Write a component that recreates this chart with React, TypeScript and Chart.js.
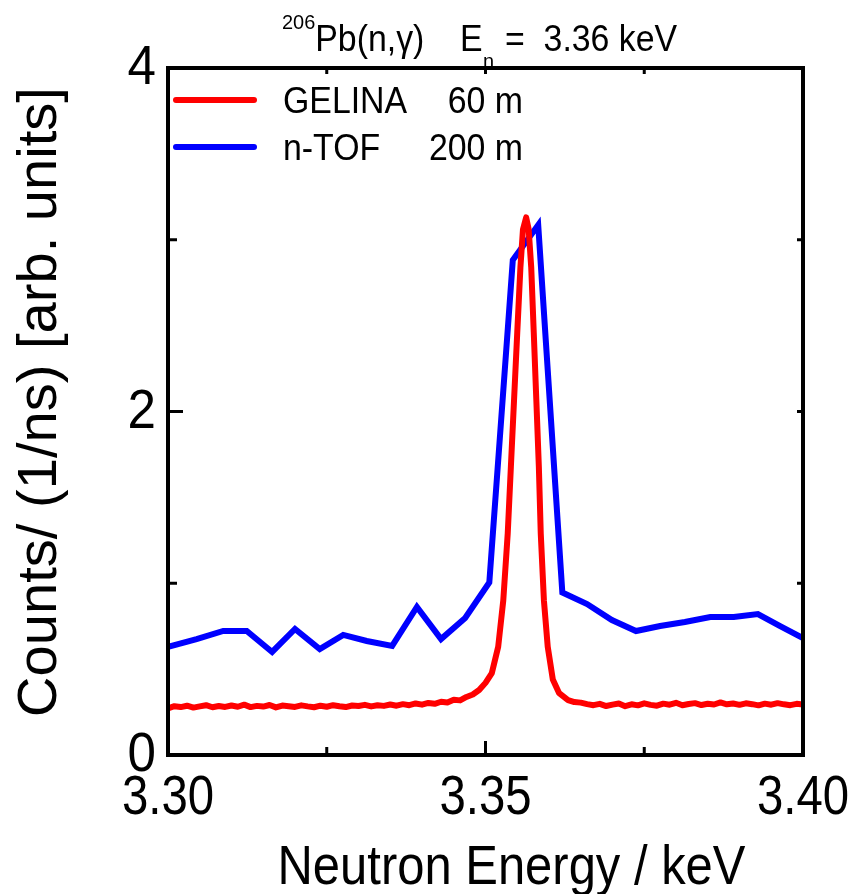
import React, { useEffect, useRef } from "react";
import { Chart, registerables } from "chart.js";

Chart.register(...registerables);

// ---- Data ----
const gelinaEnergy = [
  3.300, 3.301, 3.302, 3.303, 3.304, 3.305, 3.306, 3.307, 3.308, 3.309,
  3.310, 3.311, 3.312, 3.313, 3.314, 3.315, 3.316, 3.317, 3.318, 3.319,
  3.320, 3.321, 3.322, 3.323, 3.324, 3.325, 3.326, 3.327, 3.328, 3.329,
  3.330, 3.331, 3.332, 3.333, 3.334, 3.335, 3.336, 3.337, 3.338, 3.339,
  3.340, 3.341, 3.342, 3.343, 3.344, 3.345, 3.346, 3.347, 3.348, 3.349,
  3.350, 3.351, 3.352, 3.3528, 3.3535, 3.354, 3.3545, 3.355, 3.3555, 3.3559,
  3.3564, 3.3568, 3.3572, 3.3576, 3.358, 3.3584, 3.3587, 3.3592, 3.3598, 3.3606,
  3.3616, 3.363, 3.364,
  3.365, 3.366, 3.367, 3.368, 3.369, 3.370, 3.371, 3.372, 3.373, 3.374,
  3.375, 3.376, 3.377, 3.378, 3.379, 3.380, 3.381, 3.382, 3.383, 3.384,
  3.385, 3.386, 3.387, 3.388, 3.389, 3.390, 3.391, 3.392, 3.393, 3.394,
  3.395, 3.396, 3.397, 3.398, 3.399, 3.400,
];
const gelinaCounts = [
  0.272, 0.284, 0.279, 0.287, 0.276, 0.283, 0.290, 0.278, 0.285, 0.280,
  0.288, 0.281, 0.293, 0.279, 0.286, 0.282, 0.291, 0.277, 0.288, 0.284,
  0.280, 0.289, 0.283, 0.278, 0.287, 0.281, 0.290, 0.284, 0.279, 0.288,
  0.285, 0.292, 0.283, 0.290, 0.286, 0.294, 0.287, 0.296, 0.290, 0.300,
  0.293, 0.303, 0.298, 0.310, 0.306, 0.322, 0.318, 0.338, 0.352, 0.378,
  0.420, 0.477, 0.630, 0.900, 1.290, 1.680, 2.070, 2.460, 2.840, 3.060,
  3.130, 3.060, 2.840, 2.460, 2.070, 1.680, 1.290, 0.900, 0.630, 0.440,
  0.360, 0.320, 0.308,
  0.305, 0.296, 0.290, 0.298, 0.285, 0.293, 0.300, 0.284, 0.295, 0.289,
  0.301, 0.292, 0.287, 0.299, 0.293, 0.304, 0.290, 0.297, 0.302, 0.291,
  0.298, 0.294, 0.306, 0.295, 0.300, 0.292, 0.301, 0.296, 0.289, 0.299,
  0.293, 0.302, 0.295, 0.290, 0.298, 0.294,
];
const ntofEnergy = [
  3.3000, 3.3045, 3.3087, 3.3124, 3.3164, 3.3200, 3.3239, 3.3276, 3.3313, 3.3353,
  3.3392, 3.3430, 3.3468, 3.3506, 3.3543, 3.3583, 3.3621, 3.3660, 3.3699, 3.3737,
  3.3775, 3.3814, 3.3854, 3.3891, 3.3929, 3.3964, 3.4000,
];
const ntofCounts = [
  0.629, 0.675, 0.722, 0.722, 0.600, 0.734, 0.617, 0.699, 0.664, 0.635,
  0.862, 0.675, 0.798, 1.004, 2.882, 3.086, 0.946, 0.879, 0.786, 0.722,
  0.751, 0.774, 0.803, 0.803, 0.821, 0.751, 0.681,
];

const seriesNames = ["GELINA", "n-TOF"];
const seriesDistances = ["60 m", "200 m"];
const seriesColors = ["#ff0000", "#0000ff"];

const xTickValues = [3.3, 3.325, 3.35, 3.375, 3.4];
const xTickLabels = ["3.30", "", "3.35", "", "3.40"];
const yTickValues = [0, 1, 2, 3, 4];
const yTickLabels = ["0", "", "2", "", "4"];

const xTitle = "Neutron Energy / keV";
const yTitle = "Counts/ (1/ns) [arb. units]";
const titleMass = "206";
const titleReaction = "Pb(n,\u03b3)";
const titleE = "E";
const titleSub = "n";
const titleValue = "=  3.36 keV";

const FONT = '"Liberation Sans", Arial, Helvetica, sans-serif';

function drawText(
  ctx: CanvasRenderingContext2D,
  s: string,
  x: number,
  y: number,
  size: number,
  sx: number,
  align: CanvasTextAlign,
  baseline: CanvasTextBaseline = "alphabetic",
  rot = 0
) {
  ctx.save();
  ctx.font = `${size}px ${FONT}`;
  ctx.fillStyle = "#000";
  ctx.textAlign = align;
  ctx.textBaseline = baseline;
  ctx.translate(x, y);
  if (rot) ctx.rotate(rot);
  ctx.scale(sx, 1);
  ctx.fillText(s, 0, 0);
  ctx.restore();
}

const framePlugin = {
  id: "framePlugin",
  afterDraw(chart: any) {
    const ctx: CanvasRenderingContext2D = chart.ctx;
    const { left, right, top, bottom } = chart.chartArea;
    const xs = chart.scales.x;
    const ys = chart.scales.y;

    ctx.save();
    ctx.strokeStyle = "#000";
    ctx.lineWidth = 4;
    ctx.lineCap = "butt";
    ctx.strokeRect(left, top, right - left, bottom - top);

    // ticks (inward)
    ctx.lineWidth = 3;
    xTickValues.forEach((v, i) => {
      const px = xs.getPixelForValue(v);
      const major = xTickLabels[i] !== "";
      ctx.beginPath();
      ctx.moveTo(px, bottom);
      ctx.lineTo(px, bottom - (major ? 14 : 8));
      ctx.moveTo(px, top);
      ctx.lineTo(px, top + 6);
      ctx.stroke();
    });
    yTickValues.forEach((v, i) => {
      const py = ys.getPixelForValue(v);
      const major = yTickLabels[i] !== "";
      ctx.beginPath();
      ctx.moveTo(left, py);
      ctx.lineTo(left + (major ? 15 : 9), py);
      ctx.moveTo(right, py);
      ctx.lineTo(right - 6, py);
      ctx.stroke();
    });
    ctx.restore();

    // tick labels
    xTickValues.forEach((v, i) => {
      if (!xTickLabels[i]) return;
      drawText(ctx, xTickLabels[i], xs.getPixelForValue(v), 814, 55, 0.86, "center");
    });
    yTickValues.forEach((v, i) => {
      if (!yTickLabels[i]) return;
      drawText(ctx, yTickLabels[i], left - 12, ys.getPixelForValue(v) + 16, 55, 0.93, "right");
    });

    // axis titles
    drawText(ctx, xTitle, (left + right) / 2 + 26, 884, 55, 0.89, "center");
    drawText(ctx, yTitle, 56, 402, 55, 1.02, "center", "alphabetic", -Math.PI / 2);

    // chart title
    ctx.save();
    ctx.font = `21px ${FONT}`;
    const wMass = ctx.measureText(titleMass).width * 0.95;
    ctx.restore();
    drawText(ctx, titleMass, 282, 29, 21, 0.95, "left");
    drawText(ctx, titleReaction, 282 + wMass, 51, 36, 0.94, "left");
    drawText(ctx, titleE, 460, 51, 36, 0.94, "left");
    drawText(ctx, titleSub, 483, 68, 21, 0.95, "left");
    drawText(ctx, titleValue, 505, 51, 36, 0.94, "left");

    // legend
    const legendY = [100, 147];
    chart.data.datasets.forEach((ds: any, i: number) => {
      const y = legendY[i];
      ctx.save();
      ctx.strokeStyle = ds.borderColor;
      ctx.lineWidth = 6;
      ctx.lineCap = "round";
      ctx.beginPath();
      ctx.moveTo(176, y);
      ctx.lineTo(254, y);
      ctx.stroke();
      ctx.restore();
      drawText(ctx, seriesNames[i], 283, y + 13, 36, 0.94, "left");
      drawText(ctx, seriesDistances[i], 523, y + 13, 36, 0.94, "right");
    });
  },
};

export default function App() {
  const ref = useRef<HTMLCanvasElement | null>(null);

  useEffect(() => {
    document.body.style.margin = "0";
    if (!ref.current) return;
    const chart = new Chart(ref.current, {
      type: "line",
      data: {
        datasets: [
          {
            label: seriesNames[0],
            data: gelinaEnergy.map((x, i) => ({ x, y: gelinaCounts[i] })),
            borderColor: seriesColors[0],
            borderWidth: 6,
            pointRadius: 0,
            tension: 0,
            borderJoinStyle: "round",
            borderCapStyle: "round",
            order: 1,
          },
          {
            label: seriesNames[1],
            data: ntofEnergy.map((x, i) => ({ x, y: ntofCounts[i] })),
            borderColor: seriesColors[1],
            borderWidth: 6,
            pointRadius: 0,
            tension: 0,
            order: 2,
          },
        ],
      },
      options: {
        responsive: false,
        animation: false,
        layout: { padding: { left: 168, top: 68, right: 52, bottom: 139 } },
        plugins: {
          legend: { display: false },
          tooltip: { enabled: false },
          title: { display: false },
        },
        scales: {
          x: { type: "linear", min: 3.3, max: 3.4, display: false },
          y: { type: "linear", min: 0, max: 4, display: false },
        },
      },
      plugins: [framePlugin],
    });
    return () => chart.destroy();
  }, []);

  return (
    <div style={{ width: 855, height: 894, background: "#fff" }}>
      <canvas ref={ref} width={855} height={894} style={{ display: "block" }} />
    </div>
  );
}
